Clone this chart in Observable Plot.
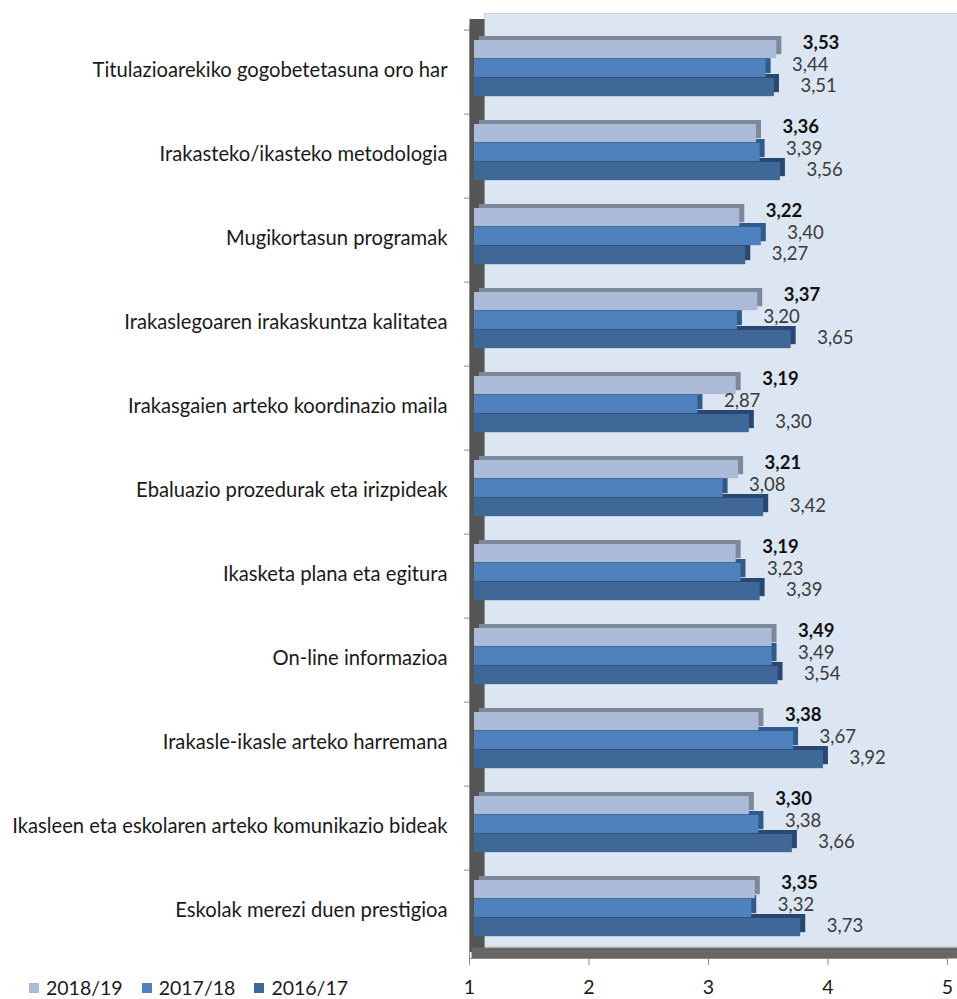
<!DOCTYPE html>
<html>
<head>
<meta charset="utf-8">
<script src="https://cdn.jsdelivr.net/npm/d3@7"></script>
<script src="https://cdn.jsdelivr.net/npm/@observablehq/plot@0.6"></script>
<style>
  html, body { margin: 0; padding: 0; background: #fff; }
  #wrap { position: relative; width: 957px; height: 999px; font-family: Lato, "Open Sans", sans-serif; }
  #legend { position: absolute; left: 29px; top: 976px; display: flex; gap: 19px; font-size: 19.5px; color: #1a1a1a; }
  #legend .item { display: flex; align-items: center; gap: 7px; }
  #legend .sw { width: 10px; height: 10px; display: inline-block; }
</style>
</head>
<body>
<div id="wrap"><div id="chart"></div><div id="legend"></div></div>
<script>
const categories = [
  "Titulazioarekiko gogobetetasuna oro har",
  "Irakasteko/ikasteko metodologia",
  "Mugikortasun programak",
  "Irakaslegoaren irakaskuntza kalitatea",
  "Irakasgaien arteko koordinazio maila",
  "Ebaluazio prozedurak eta irizpideak",
  "Ikasketa plana eta egitura",
  "On-line informazioa",
  "Irakasle-ikasle arteko harremana",
  "Ikasleen eta eskolaren arteko komunikazio bideak",
  "Eskolak merezi duen prestigioa"
];
const series = ["2018/19", "2017/18", "2016/17"];
const values2018 = [3.53, 3.36, 3.22, 3.37, 3.19, 3.21, 3.19, 3.49, 3.38, 3.30, 3.35];
const values2017 = [3.44, 3.39, 3.40, 3.20, 2.87, 3.08, 3.23, 3.49, 3.67, 3.38, 3.32];
const values2016 = [3.51, 3.56, 3.27, 3.65, 3.30, 3.42, 3.39, 3.54, 3.92, 3.66, 3.73];
const xTicks = [1, 2, 3, 4, 5];

const frontColors = ["#AABAD7", "#4F81BD", "#3F6899"];
const sideColors  = ["#7E889B", "#2F5A8C", "#284872"];

const allValues = [values2018, values2017, values2016];
const rows = series.map((s, i) => categories.map((c, k) => ({category: c, series: s, value: allValues[i][k]})));
const fmt = v => d3.format(".2f")(v).replace(".", ",");
const base = xTicks[0];

const bandPx = (999 - 25 - 41) / categories.length;
const barH = 19;
const barMarks = [];
for (let i = series.length - 1; i >= 0; i--) {
  const insetTop = 10 + barH * i;
  const insetBottom = bandPx - insetTop - barH;
  barMarks.push(Plot.barX(rows[i], {x1: () => base, x2: "value", y: "category", fill: sideColors[i], insetTop, insetBottom, dx: 10, dy: -4}));
  barMarks.push(Plot.barX(rows[i], {x1: () => base, x2: "value", y: "category", fill: frontColors[i], insetTop, insetBottom, dx: 5}));
}
const labelDy = [-29, -7, 14];
const labelMarks = series.map((s, i) => Plot.text(rows[i], {
  x: "value", y: "category", text: d => fmt(d.value), textAnchor: "start",
  dx: 31, dy: labelDy[i], fontSize: 18.5, fontWeight: i === 0 ? "bold" : "normal",
  fill: i === 0 ? "#111" : "#3a3a3a"
}));

const chart = Plot.plot({
  width: 957,
  height: 999,
  marginLeft: 469,
  marginRight: 10,
  marginTop: 25,
  marginBottom: 41,
  style: {fontFamily: "Lato, 'Open Sans', sans-serif", fontSize: "19.5px", color: "#1a1a1a", background: "transparent"},
  x: {domain: [xTicks[0], xTicks[xTicks.length - 1]]},
  y: {domain: categories, padding: 0},
  marks: [
    Plot.frame({fill: "#DCE6F2", stroke: "#c9d3df", dx: 15, dy: -12}),
    Plot.ruleX([base], {stroke: "#555555", strokeWidth: 15, dx: 7.5, dy: -6}),
    Plot.frame({anchor: "bottom", stroke: "#676767", strokeWidth: 11, strokeLinecap: "square", dx: 7.5, dy: -5.5}),
    Plot.frame({anchor: "bottom", stroke: "#8a8a8a"}),
    Plot.frame({anchor: "left", stroke: "#8a8a8a"}),
    ...barMarks,
    ...labelMarks,
    Plot.axisY({tickSize: 0, tickPadding: 22, label: null, fontSize: 20.2, dy: -2}),
    Plot.axisY({tickSize: 5, tickFormat: () => "", label: null, dy: -bandPx / 2, stroke: "#8a8a8a"}),
    Plot.axisX({ticks: xTicks, tickSize: 7, tickPadding: 15, label: null, fontSize: 19.5, tickFormat: d => String(d), stroke: "#8a8a8a"})
  ]
});
document.getElementById("chart").appendChild(chart);

const legend = document.getElementById("legend");
series.forEach((s, i) => {
  const item = document.createElement("div");
  item.className = "item";
  item.innerHTML = `<span class="sw" style="background:${frontColors[i]}"></span><span>${s}</span>`;
  legend.appendChild(item);
});
</script>
</body>
</html>
